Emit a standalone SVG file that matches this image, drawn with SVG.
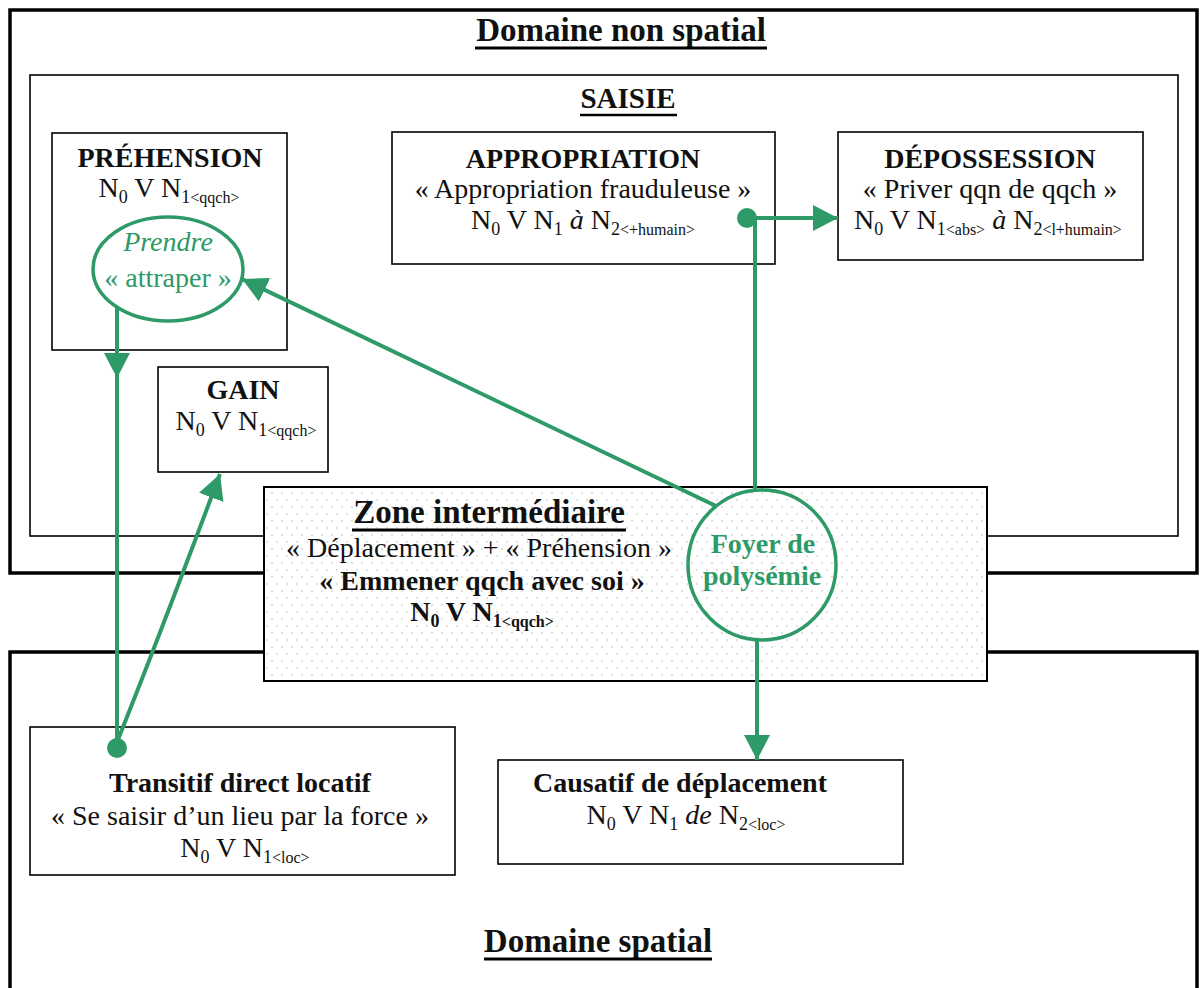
<svg xmlns="http://www.w3.org/2000/svg" width="1203" height="988" viewBox="0 0 1203 988">
<style>
.t{font-family:"Liberation Serif","Times New Roman",serif;fill:#111;font-size:28px;text-anchor:middle}
.b{font-weight:bold}
.ttl{font-size:33px;font-weight:bold}
.g{fill:#2e9a68}
.sub{font-size:18px}
.tag{font-size:16px}
.dom{fill:none;stroke:#000;stroke-width:3.5}
.box{fill:#fff;stroke:#000;stroke-width:1.6}
.ul{stroke:#000;stroke-width:3}
.con{fill:none;stroke:#2e9a68;stroke-width:4}
.ell{fill:none;stroke:#2e9a68;stroke-width:3.5}
.dot{fill:#2e9a68}
</style>
<defs>
<pattern id="dots" patternUnits="userSpaceOnUse" width="10" height="14">
<circle cx="2" cy="3" r="0.8" fill="#b8b8b8"/>
<circle cx="7" cy="10" r="0.8" fill="#b8b8b8"/>
</pattern>
<marker id="ah" markerUnits="userSpaceOnUse" markerWidth="27" markerHeight="26" refX="25" refY="13" orient="auto">
<path d="M0,0 L25,13 L0,26 Z" fill="#2e9a68"/>
</marker>
</defs>
<rect width="1203" height="988" fill="#fff"/>

<g id="domaine-non-spatial">
<rect class="dom" x="10" y="10" width="1187" height="563"/>
<text class="t ttl" x="621" y="41">Domaine non spatial</text>
<line class="ul" x1="475" y1="48" x2="767" y2="48"/>
</g>

<g id="saisie">
<rect x="30" y="75" width="1148" height="461" fill="none" stroke="#000" stroke-width="1.6"/>
<text class="t b" x="628" y="108" style="font-size:29px">SAISIE</text>
<line class="ul" x1="580" y1="115" x2="677" y2="115" style="stroke-width:2.5"/>
</g>

<g id="domaine-spatial">
<rect class="dom" x="10" y="652" width="1187" height="360"/>
<text class="t ttl" x="598" y="952">Domaine spatial</text>
<line class="ul" x1="484" y1="959" x2="712" y2="959"/>
</g>

<g id="prehension">
<rect class="box" x="52" y="133" width="235" height="217"/>
<text class="t b" x="170" y="167">PRÉHENSION</text>
<text class="t" x="169" y="197">N<tspan class="sub" dy="6">0</tspan><tspan dy="-6"> V N</tspan><tspan class="sub" dy="6">1</tspan><tspan class="tag">&lt;qqch&gt;</tspan></text>
</g>

<g id="prendre">
<ellipse class="ell" cx="168" cy="269" rx="75" ry="52"/>
<text class="t g" x="168" y="251" font-style="italic">Prendre</text>
<text class="t g" x="168" y="287">« attraper »</text>
</g>

<g id="appropriation">
<rect class="box" x="392" y="132" width="383" height="132"/>
<text class="t b" x="583" y="168">APPROPRIATION</text>
<text class="t" x="583" y="198">« Appropriation frauduleuse »</text>
<text class="t" x="583" y="229">N<tspan class="sub" dy="6">0</tspan><tspan dy="-6"> V N</tspan><tspan class="sub" dy="6">1</tspan><tspan dy="-6"> </tspan><tspan font-style="italic">à</tspan> N<tspan class="sub" dy="6">2</tspan><tspan class="tag">&lt;+humain&gt;</tspan></text>
</g>

<g id="depossession">
<rect class="box" x="838" y="132" width="305" height="128"/>
<text class="t b" x="990" y="168">DÉPOSSESSION</text>
<text class="t" x="990" y="198">« Priver qqn de qqch »</text>
<text class="t" x="988" y="229">N<tspan class="sub" dy="6">0</tspan><tspan dy="-6"> V N</tspan><tspan class="sub" dy="6">1</tspan><tspan class="tag">&lt;abs&gt;</tspan><tspan dy="-6"> </tspan><tspan font-style="italic">à</tspan> N<tspan class="sub" dy="6">2</tspan><tspan class="tag">&lt;l+humain&gt;</tspan></text>
</g>

<g id="gain">
<rect class="box" x="158" y="367" width="170" height="105"/>
<text class="t b" x="243" y="399">GAIN</text>
<text class="t" x="246" y="430">N<tspan class="sub" dy="6">0</tspan><tspan dy="-6"> V N</tspan><tspan class="sub" dy="6">1</tspan><tspan class="tag">&lt;qqch&gt;</tspan></text>
</g>

<g id="zone-intermediaire">
<rect x="264" y="487" width="723" height="194" fill="#fff" stroke="#000" stroke-width="2"/>
<rect x="265" y="488" width="721" height="192" fill="url(#dots)"/>
<text class="t ttl" x="489" y="523">Zone intermédiaire</text>
<line class="ul" x1="352" y1="530" x2="626" y2="530"/>
<text class="t" x="479" y="557">« Déplacement » + « Préhension »</text>
<text class="t b" x="482" y="590">« Emmener qqch avec soi »</text>
<text class="t b" x="482" y="621">N<tspan class="sub" dy="6">0</tspan><tspan dy="-6"> V N</tspan><tspan class="sub" dy="6">1</tspan><tspan class="tag">&lt;qqch&gt;</tspan></text>
</g>

<g id="foyer">
<ellipse class="ell" cx="762" cy="565" rx="74" ry="75"/>
<text class="t b g" x="763" y="553">Foyer de</text>
<text class="t b g" x="762" y="585">polysémie</text>
</g>

<g id="transitif">
<rect class="box" x="30" y="727" width="425" height="148"/>
<text class="t b" x="240" y="792">Transitif direct locatif</text>
<text class="t" x="240" y="825">« Se saisir d’un lieu par la force »</text>
<text class="t" x="245" y="857">N<tspan class="sub" dy="6">0</tspan><tspan dy="-6"> V N</tspan><tspan class="sub" dy="6">1</tspan><tspan class="tag">&lt;loc&gt;</tspan></text>
</g>

<g id="causatif">
<rect class="box" x="498" y="760" width="405" height="104"/>
<text class="t b" x="680" y="792">Causatif de déplacement</text>
<text class="t" x="686" y="824">N<tspan class="sub" dy="6">0</tspan><tspan dy="-6"> V N</tspan><tspan class="sub" dy="6">1</tspan><tspan dy="-6"> </tspan><tspan font-style="italic">de</tspan> N<tspan class="sub" dy="6">2</tspan><tspan class="tag">&lt;loc&gt;</tspan></text>
</g>

<g id="connectors">
<path class="con" d="M117,307 L117,378 L117,748" marker-mid="url(#ah)"/>
<path class="con" d="M117,742 Q158,640 220,474" marker-end="url(#ah)"/>
<path class="con" d="M716,506 L242,279" marker-end="url(#ah)"/>
<path class="con" d="M747,218 L838,218" marker-end="url(#ah)"/>
<path class="con" d="M755,218 L755,491"/>
<path class="con" d="M757,640 L757,760" marker-end="url(#ah)"/>
<circle class="dot" cx="117" cy="748" r="10"/>
<circle class="dot" cx="747" cy="218" r="10"/>
</g>
</svg>
